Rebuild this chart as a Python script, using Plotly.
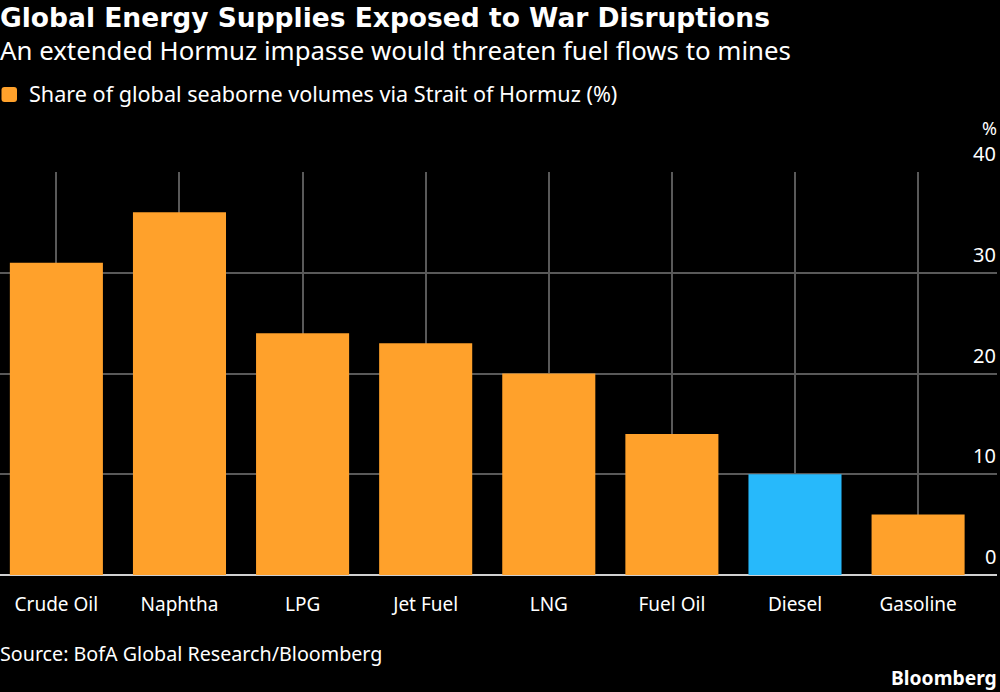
"""Share of seaborne energy volumes via Hormuz, column chart."""

import plotly.graph_objects as go

categories = ["Crude Oil", "Naphtha", "LPG", "Jet Fuel", "LNG", "Fuel Oil", "Diesel", "Gasoline"]
shares = [31, 36, 24, 23, 20, 14, 10, 6]
bar_colors = ["#ffa12b"] * 6 + ["#27b9fb", "#ffa12b"]
y_ticks = [0, 10, 20, 30, 40]

FONT = "Noto Sans"
TITLE_FONT = "DejaVu Sans"
WIDTH = 1000
HEIGHT = 692

fig = go.Figure(go.Bar(
    x=categories,
    y=shares,
    width=0.756,
    marker=dict(color=bar_colors, line=dict(width=0)),
))


def add_text(text, x, y, size, bold=False, xanchor="left", family=FONT):
    fig.add_annotation(
        text=f"<b>{text}</b>" if bold else text,
        x=x, y=y, xref="paper", yref="paper",
        xanchor=xanchor, yanchor="middle",
        showarrow=False, align=xanchor,
        borderpad=0, borderwidth=0,
        font=dict(family=family, color="#ffffff", size=size),
    )


def px(pixel):
    return pixel / 997


def py(pixel):
    # pixel row from the top -> paper coordinate of the plot area
    return (575 - pixel) / (575 - 172)


add_text("Global Energy Supplies Exposed to War Disruptions", 0, py(17), 26.5, bold=True, family=TITLE_FONT)
add_text("An extended Hormuz impasse would threaten fuel flows to mines", 0, py(50), 25.8)
add_text("Share of global seaborne volumes via Strait of Hormuz (%)", px(29), py(93), 21.6)
add_text("Source: BofA Global Research/Bloomberg", 0, py(653), 19.7)
add_text("Bloomberg", 1, py(677), 19.3, bold=True, xanchor="right")
add_text("%", 1, py(128), 18, xanchor="right")

# y labels sit on top of their gridlines, on the right
for tick in y_ticks:
    fig.add_annotation(
        text=str(tick), x=1, y=tick, xref="paper", yref="y",
        xanchor="right", yanchor="bottom", yshift=4, showarrow=False,
        borderpad=0, font=dict(family=FONT, color="#ffffff", size=20),
    )

# legend swatch, rounded corners
x0, x1, y0, y1 = px(1.5), px(17), py(102), py(87)
rx, ry = px(3), 3 / 403
fig.add_shape(
    type="path", xref="paper", yref="paper",
    path=(
        f"M {x0 + rx} {y0} L {x1 - rx} {y0} Q {x1} {y0} {x1} {y0 + ry} "
        f"L {x1} {y1 - ry} Q {x1} {y1} {x1 - rx} {y1} "
        f"L {x0 + rx} {y1} Q {x0} {y1} {x0} {y1 - ry} "
        f"L {x0} {y0 + ry} Q {x0} {y0} {x0 + rx} {y0} Z"
    ),
    fillcolor="#ffa12b", line=dict(width=0),
)

fig.update_layout(
    width=WIDTH,
    height=HEIGHT,
    margin=dict(l=0, r=3, t=172, b=117),
    paper_bgcolor="#000000",
    plot_bgcolor="#000000",
    showlegend=False,
    xaxis=dict(
        type="category",
        range=[-0.458, 7.641],
        showgrid=True,
        gridcolor="#595959",
        gridwidth=1.5,
        showline=False,
        zeroline=False,
        ticks="outside",
        ticklen=12,
        tickcolor="rgba(0,0,0,0)",
        tickfont=dict(family=FONT, color="#ffffff", size=19),
        fixedrange=True,
    ),
    yaxis=dict(
        range=[0, 40],
        tickvals=y_ticks,
        showticklabels=False,
        showgrid=True,
        gridcolor="#595959",
        gridwidth=1.5,
        zeroline=True,
        zerolinecolor="#d0d0d0",
        zerolinewidth=2,
        fixedrange=True,
    ),
)

# page background and no body margin, so the chart fills the window
fig.write_html(
    "out.html",
    config={"displayModeBar": False},
    post_script="document.body.style.margin='0';document.body.style.background='#000';",
)
